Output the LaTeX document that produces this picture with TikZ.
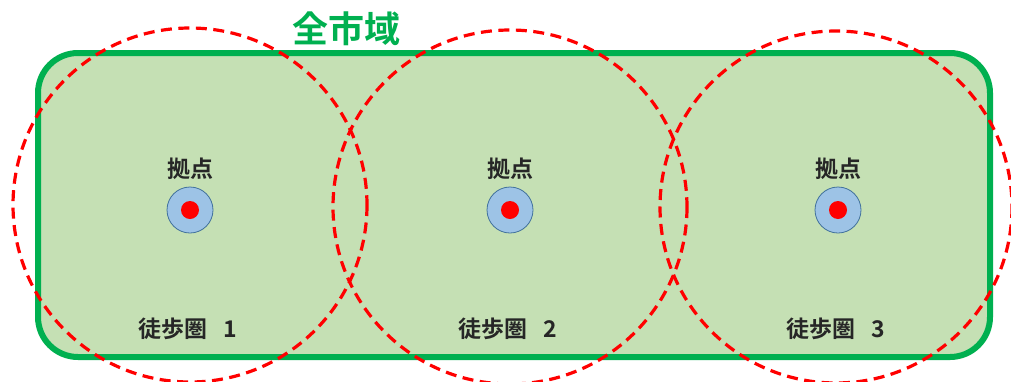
\documentclass[tikz,border=0pt]{standalone}
\usepackage{fontspec}
\setmainfont{Noto Sans CJK JP}[BoldFont={* Bold}]
\newfontfamily\jpfont{Noto Sans CJK JP Bold}
\definecolor{areagreen}{HTML}{00B050}
\definecolor{areafill}{HTML}{C5E0B4}
\definecolor{basefill}{HTML}{9DC3E6}
\definecolor{baseedge}{HTML}{41719C}
\tikzset{
  zone/.style={draw=red, line width=3.2pt, dash pattern=on 11pt off 6.5pt},
  basering/.style={circle, draw=baseedge, line width=0.8pt, fill=basefill, minimum size=46pt, inner sep=0pt},
  basedot/.style={circle, fill=red, minimum size=18pt, inner sep=0pt},
  baselabel/.style={font=\jpfont\fontsize{23}{26}\selectfont, text=black!85},
  zonelabel/.style={font=\jpfont\fontsize{23}{26}\selectfont, text=black!85},
}
\begin{document}
\begin{tikzpicture}[x=1pt,y=-1pt]
\useasboundingbox (0,0) rectangle (1011,381);
\draw[areagreen, line width=6pt, fill=areafill, rounded corners=40pt] (38,53) rectangle (990,357);
\node[font=\jpfont\fontsize{36}{40}\selectfont, text=areagreen] (title) at (346,29) {全市域};
\foreach \i/\x in {1/190,2/510,3/838}{
  \node[basering] (ring\i) at (\x,210) {};
  \node[basedot] (dot\i) at (\x,210) {};
  \node[baselabel] (blab\i) at (\x,169) {拠点};
  \node[zonelabel] (zlab\i) at (\x-2,329) {徒歩圏\hspace{0.7em}\i};
}
\draw[zone] (190,205) circle (177);
\draw[zone] (510,207) circle (177);
\draw[zone] (836,207) circle (176);
\end{tikzpicture}
\end{document}
